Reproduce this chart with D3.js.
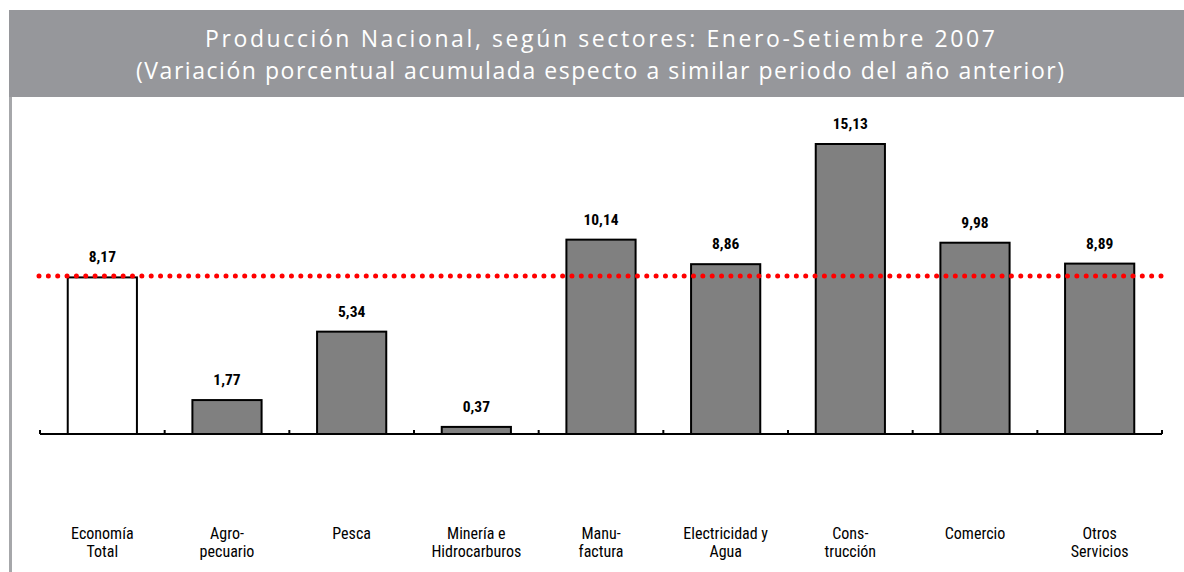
<!DOCTYPE html>
<html>
<head>
<meta charset="utf-8">
<script src="https://cdn.jsdelivr.net/npm/d3@7"></script>
<style>
  body { margin: 0; background: #fff; }
  svg { display: block; }
</style>
</head>
<body>
<svg id="chart" width="1184" height="572"></svg>
<script>
// chart data
const TITLE_LINES = [
  "Producción Nacional, según sectores: Enero-Setiembre 2007",
  "(Variación porcentual acumulada especto a similar periodo del año anterior)"
];
const TITLE_WIDTHS = [790, 928];
const categories = [
  ["Economía", "Total"],
  ["Agro-", "pecuario"],
  ["Pesca"],
  ["Minería e", "Hidrocarburos"],
  ["Manu-", "factura"],
  ["Electricidad y", "Agua"],
  ["Cons-", "trucción"],
  ["Comercio"],
  ["Otros", "Servicios"]
];
const values = [8.17, 1.77, 5.34, 0.37, 10.14, 8.86, 15.13, 9.98, 8.89];
const referenceValue = 8.17;

const BANNER_COLOR = "#96979b";
const BAR_COLOR = "#808080";
const LABEL_FONT = "'Liberation Sans Narrow', 'Roboto Condensed', 'Liberation Sans', Arial, sans-serif";

const svg = d3.select("#chart");

// title banner + left border
svg.append("rect")
  .attr("x", 9).attr("y", 10)
  .attr("width", 1175).attr("height", 87)
  .attr("fill", BANNER_COLOR);
svg.append("rect")
  .attr("x", 9).attr("y", 97)
  .attr("width", 3).attr("height", 475)
  .attr("fill", "#a6a7aa");

svg.selectAll(".title-line")
  .data(TITLE_LINES)
  .enter()
  .append("text")
  .attr("class", "title-line")
  .attr("x", 600)
  .attr("y", (d, i) => 47 + i * 32)
  .attr("text-anchor", "middle")
  .attr("fill", "white")
  .attr("font-family", "'Open Sans', 'DejaVu Sans', sans-serif")
  .attr("font-size", "23px")
  .attr("textLength", (d, i) => TITLE_WIDTHS[i])
  .attr("lengthAdjust", "spacing")
  .text(d => d);

// scales
const x = d3.scaleBand()
  .domain(d3.range(categories.length))
  .range([40, 1162])
  .paddingInner(0.445)
  .paddingOuter(0.2225);

const y = d3.scaleLinear()
  .domain([0, 15.13])
  .range([434, 144]);

// bars
svg.selectAll(".bar")
  .data(values)
  .enter()
  .append("rect")
  .attr("class", "bar")
  .attr("x", (d, i) => x(i))
  .attr("y", d => y(d))
  .attr("width", x.bandwidth())
  .attr("height", d => y(0) - y(d))
  .attr("fill", (d, i) => i === 0 ? "white" : BAR_COLOR)
  .attr("stroke", "black")
  .attr("stroke-width", 2);

// axis line with ticks at category boundaries
const step = x.step();
svg.append("line")
  .attr("x1", 40).attr("x2", 1162)
  .attr("y1", y(0)).attr("y2", y(0))
  .attr("stroke", "black").attr("stroke-width", 2);
svg.selectAll(".tick-mark")
  .data(d3.range(categories.length + 1))
  .enter()
  .append("line")
  .attr("class", "tick-mark")
  .attr("x1", i => 40 + i * step).attr("x2", i => 40 + i * step)
  .attr("y1", y(0) - 4).attr("y2", y(0))
  .attr("stroke", "black").attr("stroke-width", 2);

// reference dotted line
svg.append("line")
  .attr("x1", 39).attr("x2", 1162)
  .attr("y1", y(referenceValue) - 1.5).attr("y2", y(referenceValue) - 1.5)
  .attr("stroke", "#ff0000")
  .attr("stroke-width", 5)
  .attr("stroke-linecap", "round")
  .attr("stroke-dasharray", "0 9.35");

// value labels
svg.selectAll(".value-label")
  .data(values)
  .enter()
  .append("text")
  .attr("class", "value-label")
  .attr("x", (d, i) => x(i) + x.bandwidth() / 2)
  .attr("y", d => y(d) - 15)
  .attr("text-anchor", "middle")
  .attr("font-family", LABEL_FONT)
  .attr("font-weight", "bold")
  .attr("font-size", "15.5px")
  .text(d => d.toFixed(2).replace(".", ","));

// category labels
const catLabels = svg.selectAll(".cat-label")
  .data(categories)
  .enter()
  .append("text")
  .attr("class", "cat-label")
  .attr("x", (d, i) => x(i) + x.bandwidth() / 2)
  .attr("y", 539)
  .attr("text-anchor", "middle")
  .attr("font-family", LABEL_FONT)
  .attr("font-size", "16px")
  .attr("fill", "#000");

catLabels.selectAll("tspan")
  .data(d => d)
  .enter()
  .append("tspan")
  .attr("x", function() { return d3.select(this.parentNode).attr("x"); })
  .attr("dy", (d, i) => i === 0 ? 0 : 18)
  .text(d => d);
</script>
</body>
</html>
